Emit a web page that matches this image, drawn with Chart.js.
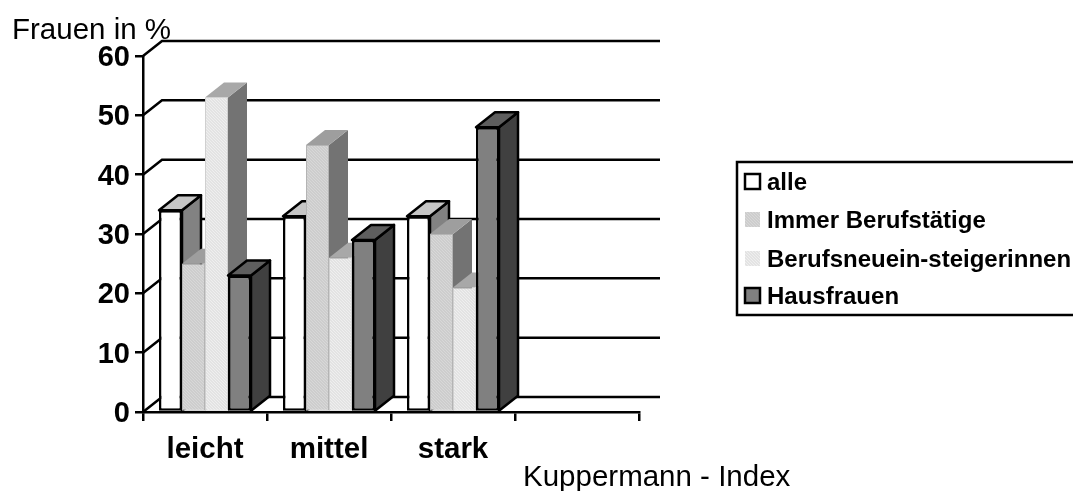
<!DOCTYPE html>
<html>
<head>
<meta charset="utf-8">
<title>Kuppermann-Index</title>
<script src="https://cdn.jsdelivr.net/npm/chart.js@4/dist/chart.umd.min.js"></script>
<style>
  html, body { margin: 0; padding: 0; background: #fff; overflow: hidden; }
  canvas { display: block; }
</style>
</head>
<body>
<canvas id="kuppermann" width="1073" height="491"></canvas>
<script>
const categories = ['leicht', 'mittel', 'stark', ''];
const alle = [34, 33, 33];
const immerBerufstaetige = [25, 45, 30];
const berufsneueinsteigerinnen = [53, 26, 21];
const hausfrauen = [23, 29, 48];
const yTicks = [0, 10, 20, 30, 40, 50, 60];

const FONT = '"Liberation Sans", Arial, sans-serif';
const DEPTH_X = 19;
const DEPTH_Y = 15;

// small diagonal dither for the two light series
function hatch(a, b) {
    const c = document.createElement('canvas');
    c.width = c.height = 3;
    const g = c.getContext('2d');
    g.fillStyle = a;
    g.fillRect(0, 0, 3, 3);
    g.fillStyle = b;
    for (let i = 0; i < 3; i++) g.fillRect(i, i, 1, 1);
    return g.createPattern(c, 'repeat');
}

const seriesStyles = [
    { front: '#ffffff', top: '#c6c6c6', side: '#828282', line: '#000000', lw: 2.5 },
    { front: hatch('#cdcdcd', '#d8d8d8'), top: '#9e9e9e', side: '#737373', line: '#b4b4b4', lw: 1 },
    { front: hatch('#e3e3e3', '#efefef'), top: '#a8a8a8', side: '#737373', line: '#d0d0d0', lw: 1 },
    { front: '#808080', top: '#5e5e5e', side: '#404040', line: '#000000', lw: 2.5 }
];
const seriesNames = ['alle', 'Immer Berufstätige', 'Berufsneuein-steigerinnen', 'Hausfrauen'];
const seriesValues = [alle, immerBerufstaetige, berufsneueinsteigerinnen, hausfrauen];

// top and side faces behind one bar
function drawFaces(ctx, bar, st) {
    const p = bar.getProps(['x', 'y', 'base', 'width'], true);
    if (p.y == null || isNaN(p.y)) return;
    const l = p.x - p.width / 2, r = p.x + p.width / 2;
    ctx.lineWidth = st.lw;
    ctx.lineJoin = 'round';
    ctx.strokeStyle = st.line === '#000000' ? '#000000' : 'transparent';

    ctx.fillStyle = st.side;
    ctx.beginPath();
    ctx.moveTo(r, p.y);
    ctx.lineTo(r + DEPTH_X, p.y - DEPTH_Y);
    ctx.lineTo(r + DEPTH_X, p.base - DEPTH_Y);
    ctx.lineTo(r, p.base);
    ctx.closePath();
    ctx.fill();
    ctx.stroke();

    ctx.fillStyle = st.top;
    ctx.beginPath();
    ctx.moveTo(l, p.y);
    ctx.lineTo(l + DEPTH_X, p.y - DEPTH_Y);
    ctx.lineTo(r + DEPTH_X, p.y - DEPTH_Y);
    ctx.lineTo(r, p.y);
    ctx.closePath();
    ctx.fill();
    ctx.stroke();
}

const box3d = {
    id: 'box3d',
    beforeDatasetsDraw(chart) {
        const { ctx, scales: { x, y } } = chart;
        ctx.save();
        // wall lines going back from the value axis, then along the rear wall
        ctx.strokeStyle = '#000';
        ctx.lineWidth = 2.5;
        yTicks.forEach(v => {
            const py = y.getPixelForValue(v);
            ctx.beginPath();
            ctx.moveTo(x.left, py);
            ctx.lineTo(x.left + DEPTH_X, py - DEPTH_Y);
            ctx.lineTo(x.right + DEPTH_X + 2, py - DEPTH_Y);
            ctx.stroke();
        });
        // left to right, so each bar hides the side of the one before it
        chart.data.datasets.forEach((ds, i) => {
            const meta = chart.getDatasetMeta(i);
            meta.data.forEach(bar => drawFaces(ctx, bar, seriesStyles[i]));
            meta.data.forEach(bar => bar.draw(ctx));
        });
        ctx.restore();
    },
    beforeDatasetDraw() {
        return false;
    },
    afterDraw(chart) {
        const { ctx } = chart;
        ctx.save();
        ctx.fillStyle = '#000';
        ctx.textBaseline = 'alphabetic';
        ctx.textAlign = 'left';
        ctx.font = '29.5px ' + FONT;
        ctx.fillText('Frauen in %', 12, 38.5);
        ctx.fillText('Kuppermann - Index', 523, 486);

        // legend box runs off the right edge
        ctx.strokeStyle = '#000';
        ctx.lineWidth = 2.5;
        ctx.strokeRect(737, 162, 400, 153);
        const rowY = [182, 220, 259, 296];
        ctx.font = 'bold 24px ' + FONT;
        ctx.textBaseline = 'middle';
        seriesNames.forEach((name, i) => {
            const st = seriesStyles[i];
            ctx.fillStyle = st.front;
            ctx.fillRect(745, rowY[i] - 8, 15, 15);
            if (st.line === '#000000') {
                ctx.lineWidth = 2.5;
                ctx.strokeRect(745, rowY[i] - 8, 15, 15);
            }
            ctx.fillStyle = '#000';
            ctx.fillText(name, 767, rowY[i] + 1);
        });
        ctx.restore();
    }
};

new Chart(document.getElementById('kuppermann').getContext('2d'), {
    type: 'bar',
    data: {
        labels: categories,
        datasets: seriesValues.map((values, i) => ({
            label: seriesNames[i],
            data: values,
            backgroundColor: seriesStyles[i].front,
            borderColor: seriesStyles[i].line,
            borderWidth: seriesStyles[i].lw,
            borderSkipped: false,
            categoryPercentage: 0.742,
            barPercentage: 1
        }))
    },
    options: {
        responsive: false,
        animation: false,
        layout: { padding: { left: 0, top: 56, right: 434, bottom: 0 } },
        plugins: { legend: { display: false }, tooltip: { enabled: false } },
        scales: {
            x: {
                afterFit: s => { s.height = 79; },
                border: { color: '#000', width: 2.5, z: 1 },
                grid: { drawOnChartArea: false, color: '#000', lineWidth: 2.5, tickLength: 9, offset: true },
                ticks: { color: '#000', padding: 11, maxRotation: 0, font: { family: FONT, size: 29.5, weight: 'bold' } }
            },
            y: {
                min: 0,
                max: 60,
                afterFit: s => { s.width = 143; },
                afterBuildTicks: s => { s.ticks = yTicks.map(v => ({ value: v })); },
                border: { color: '#000', width: 2.5, z: 1 },
                grid: { drawOnChartArea: false, color: '#000', lineWidth: 2.5, tickLength: 8 },
                ticks: { color: '#000', padding: 5, labelOffset: 2, font: { family: FONT, size: 29, weight: 'bold' } }
            }
        }
    },
    plugins: [box3d]
});
</script>
</body>
</html>
